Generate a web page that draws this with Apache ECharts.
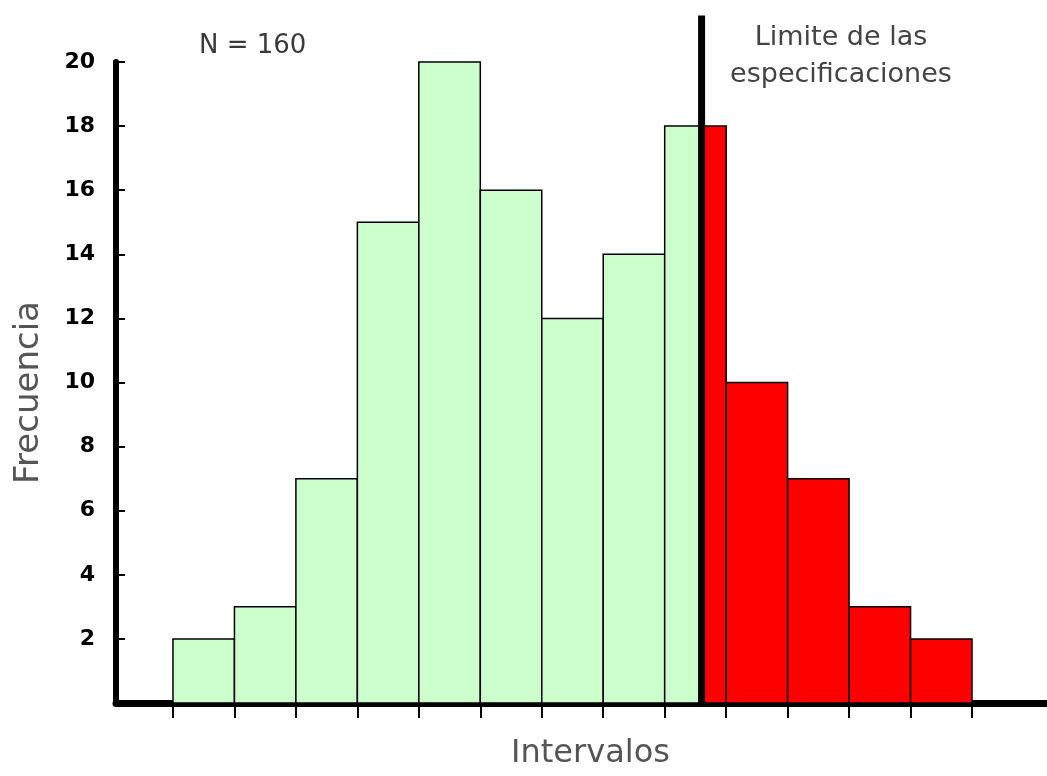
<!DOCTYPE html>
<html>
<head>
<meta charset="utf-8">
<script src="https://cdn.jsdelivr.net/npm/echarts@6/dist/echarts.min.js"></script>
<style>
html,body{margin:0;padding:0;background:#fff;}
#chart{width:1047px;height:776px;}
</style>
</head>
<body>
<div id="chart"></div>
<script>
// ---- data ----
const binStarts = [1,2,3,4,5,6,7,8,9,10,11,12,13];
const frequencies = [2,3,7,15,20,16,12,14,18,10,7,3,2];
const binTicks = [1,2,3,4,5,6,7,8,9,10,11,12,13,14];
const yTickValues = [2,4,6,8,10,12,14,16,18,20];
const specLimit = 9.6;
const specLineTop = 21.45;
const sampleLabel = 'N = 160';
const specLabel = 'Limite de las\nespecificaciones';
const yName = 'Frecuencia';
const xName = 'Intervalos';

// build rect items [x0, x1, value, isOut]
const rects = [];
binStarts.forEach((s, i) => {
  const e = s + 1, v = frequencies[i];
  if (e <= specLimit) rects.push([s, e, v, 0]);
  else if (s >= specLimit) rects.push([s, e, v, 1]);
  else { rects.push([s, specLimit, v, 0]); rects.push([specLimit, e, v, 1]); }
});

const chart = echarts.init(document.getElementById('chart'));
chart.setOption({
  animation: false,
  backgroundColor: '#fff',
  title: [
    {text: sampleLabel, left: 194, top: 28,
     textStyle: {fontFamily: 'DejaVu Sans', fontSize: 26, fontWeight: 'normal', color: '#3a3a3a'}},
    {text: specLabel, left: 836, top: 14, textAlign: 'center',
     textStyle: {fontFamily: 'DejaVu Sans', fontSize: 27, fontWeight: 'normal', color: '#444', lineHeight: 37, align: 'center'}}
  ],
  grid: {left: 116, right: 0, top: 62, bottom: 73, containLabel: false},
  xAxis: {
    type: 'value', min: 0.073, max: 15.22,
    name: xName, nameLocation: 'middle', nameGap: 35,
    nameTextStyle: {fontFamily: 'DejaVu Sans', fontSize: 32, color: '#555', padding: [0, 0, 0, 18]},
    axisLine: {show: true, onZero: false, lineStyle: {color: '#000', width: 7}},
    axisTick: {show: true, customValues: binTicks, length: 15, lineStyle: {color: '#000', width: 2}},
    axisLabel: {show: false},
    splitLine: {show: false}
  },
  yAxis: {
    type: 'value', min: 0, max: 20,
    name: yName, nameLocation: 'middle', nameGap: 70, nameRotate: 90,
    nameTextStyle: {fontFamily: 'DejaVu Sans', fontSize: 34, color: '#555', padding: [0, 20, 0, 0]},
    axisLine: {show: true, lineStyle: {color: '#000', width: 6}},
    axisTick: {show: true, inside: true, customValues: yTickValues, length: 9, lineStyle: {color: '#000', width: 2}},
    axisLabel: {show: true, customValues: yTickValues, margin: 21,
      fontFamily: 'DejaVu Sans', fontWeight: 'bold', fontSize: 22, color: '#000'},
    splitLine: {show: false}
  },
  series: [
    {
      type: 'custom',
      clip: false,
      data: rects,
      renderItem: function (params, api) {
        const x0 = api.value(0), x1 = api.value(1), v = api.value(2), out = api.value(3);
        const p0 = api.coord([x0, v]);
        const p1 = api.coord([x1, 0]);
        return {
          type: 'rect',
          shape: {x: p0[0], y: p0[1], width: p1[0] - p0[0], height: p1[1] - p0[1]},
          style: {fill: out ? '#ff0000' : '#ccffcc', stroke: '#000', lineWidth: 1.5}
        };
      },
      z: 2
    },
    {
      type: 'custom',
      clip: false,
      data: [[specLimit, specLineTop]],
      renderItem: function (params, api) {
        const a = api.coord([api.value(0), 0]);
        const b = api.coord([api.value(0), api.value(1)]);
        return {
          type: 'line',
          shape: {x1: a[0], y1: a[1], x2: b[0], y2: b[1]},
          style: {stroke: '#000', lineWidth: 7}
        };
      },
      z: 3
    }
  ]
});
</script>
</body>
</html>
